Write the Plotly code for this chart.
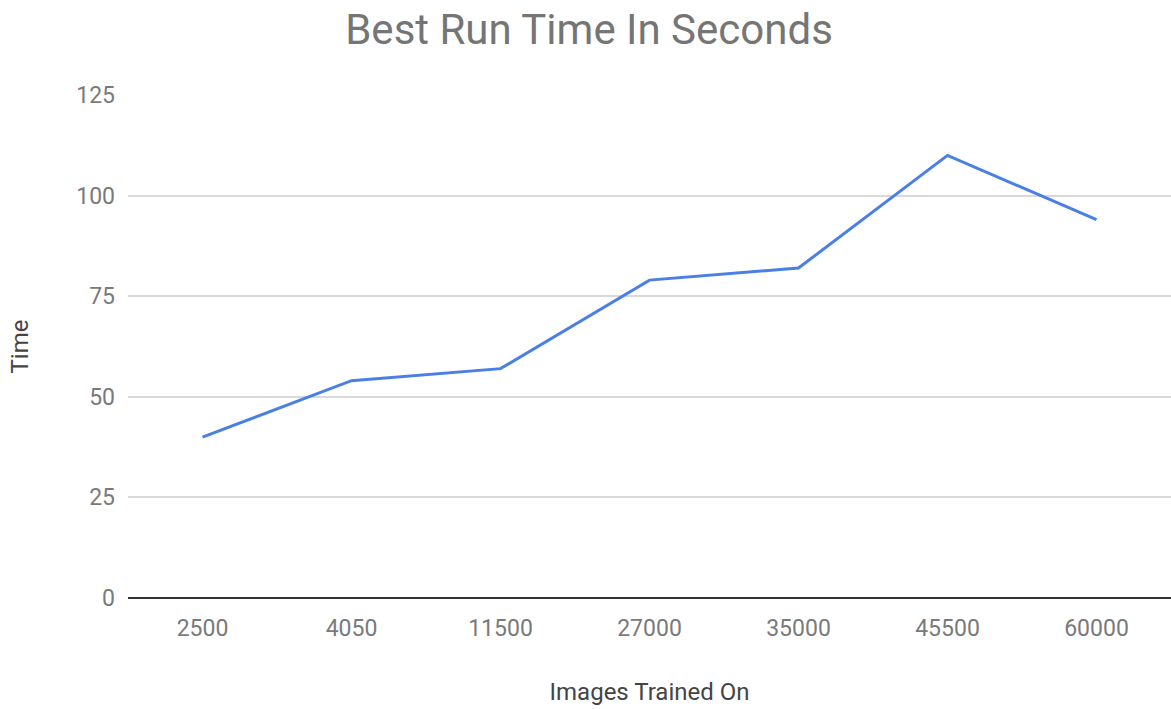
import plotly.graph_objects as go

images = ["2500", "4050", "11500", "27000", "35000", "45500", "60000"]
times = [40, 54, 57, 79, 82, 110, 94]
y_ticks = [0, 25, 50, 75, 100, 125]

fig = go.Figure(
    go.Scatter(
        x=images,
        y=times,
        mode="lines",
        line=dict(color="#4a7fe6", width=3),
    )
)

fig.update_layout(
    width=1171,
    height=709,
    margin=dict(l=128, r=0, t=95, b=111),
    paper_bgcolor="white",
    plot_bgcolor="white",
    font=dict(family="Roboto", color="#757575", size=23),
    title=dict(
        text="Best Run Time In Seconds",
        x=0.503,
        xref="container",
        xanchor="center",
        y=0.958,
        yanchor="middle",
        font=dict(family="Roboto", size=42, color="#757575"),
    ),
    showlegend=False,
)

fig.update_xaxes(
    type="category",
    range=[-0.5, 6.5],
    showgrid=False,
    showline=False,
    ticks="",
    ticklabelstandoff=14,
    tickfont=dict(size=23, color="#7a7a7a"),
    title=dict(text="Images Trained On", font=dict(size=24, color="#444444"), standoff=42),
)

fig.update_yaxes(
    range=[0, 125],
    tickvals=y_ticks,
    showgrid=True,
    gridcolor="#d9d9d9",
    gridwidth=2,
    zeroline=True,
    zerolinecolor="#333333",
    zerolinewidth=2,
    ticks="",
    ticklabelstandoff=12,
    tickfont=dict(size=23, color="#7a7a7a"),
    title=dict(text="Time", font=dict(size=24, color="#444444"), standoff=40),
)

fig.write_html("out.html")
